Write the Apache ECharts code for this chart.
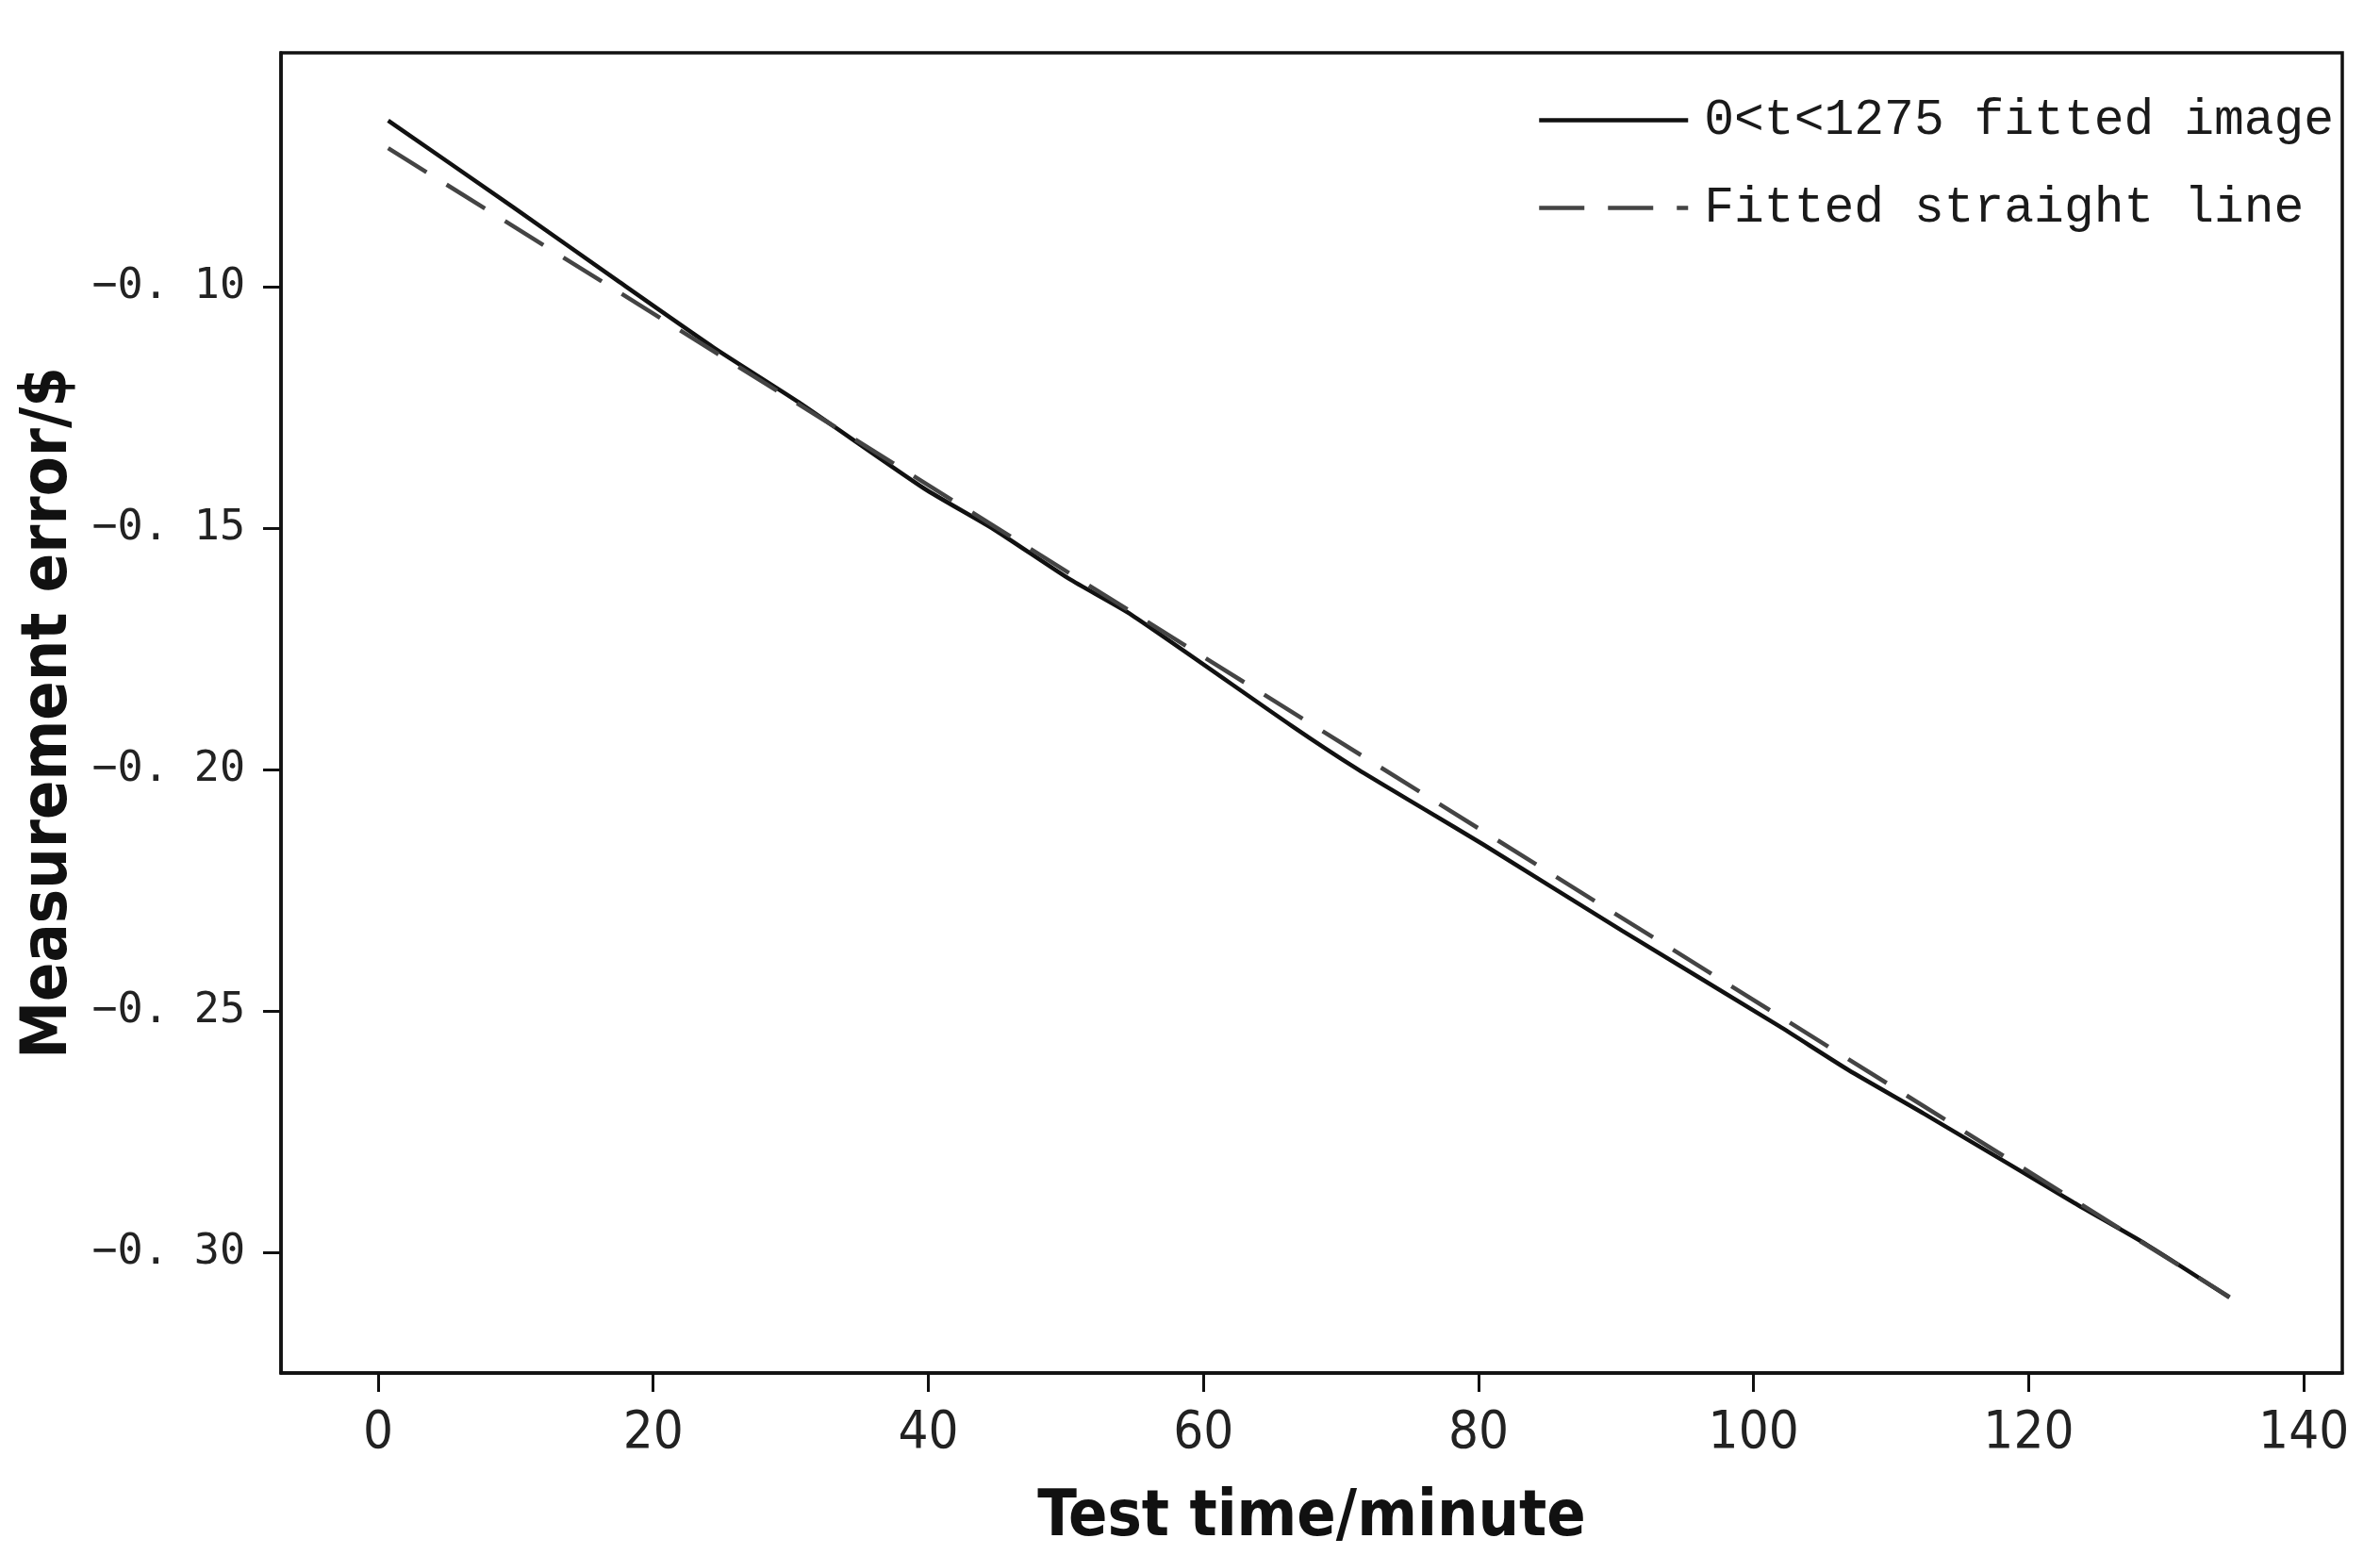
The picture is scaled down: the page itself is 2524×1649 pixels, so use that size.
<!DOCTYPE html>
<html>
<head>
<meta charset="utf-8">
<script src="https://cdn.jsdelivr.net/npm/echarts@6/dist/echarts.min.js"></script>
<style>
html, body { margin: 0; padding: 0; background: #fff; }
#chart { width: 2524px; height: 1649px; }
</style>
</head>
<body>
<div id="chart"></div>
<script>
// Tick labels
const xTicks = [0, 20, 40, 60, 80, 100, 120, 140];
const yTicks = [-0.30, -0.25, -0.20, -0.15, -0.10];

// Series 1: 0<t<1275 fitted image (solid)
const fittedX = [0.73, 9.76, 17.53, 24.39, 30.56, 39.7, 44.73, 50.22, 54.78, 66.43, 71.23, 76.03, 80.37, 90.43, 101.86, 106.9, 112.37, 123.3, 128.6, 134.6];
const fittedY = [-0.0655, -0.0833, -0.0989, -0.1125, -0.1238, -0.1417, -0.1501, -0.1604, -0.1679, -0.1909, -0.1999, -0.2081, -0.2155, -0.2333, -0.2531, -0.2622, -0.2712, -0.2897, -0.2984, -0.3093];

// Series 2: Fitted straight line (dashed)
const straightX = [0.73, 134.6];
const straightY = [-0.0712, -0.3092];

const seriesNames = ['0<t<1275 fitted image', 'Fitted straight line'];

const zip = (xs, ys) => xs.map((x, i) => [x, ys[i]]);

const chart = echarts.init(document.getElementById('chart'));
chart.setOption({
  animation: false,
  backgroundColor: '#ffffff',
  grid: {
    left: 298, top: 56, width: 2186, height: 1407,
    show: true, borderColor: '#111', borderWidth: 3.5, backgroundColor: 'transparent'
  },
  legend: {
    orient: 'vertical',
    left: 1630, top: 101,
    padding: 0,
    itemWidth: 158, itemHeight: 40, itemGap: 40,
    data: seriesNames,
    itemStyle: { opacity: 0 },
    lineStyle: { width: 4.5 },
    textStyle: {
      fontFamily: '"Liberation Mono", "DejaVu Sans Mono", monospace',
      fontSize: 53, color: '#1a1a1a', padding: [0, 0, 0, 12]
    }
  },
  xAxis: {
    type: 'value',
    min: -7.06, max: 142.8,
    name: 'Test time/minute',
    nameLocation: 'middle',
    nameGap: 120,
    nameTextStyle: {
      fontFamily: '"Liberation Sans Narrow", "DejaVu Sans Condensed", "Liberation Sans", sans-serif',
      fontWeight: 'bold', fontSize: 68, color: '#111'
    },
    splitLine: { show: false },
    axisLine: { show: true, onZero: false, lineStyle: { color: '#111', width: 3.5 } },
    axisTick: { show: true, customValues: xTicks, length: 20, lineStyle: { color: '#111', width: 3 } },
    axisLabel: {
      customValues: xTicks, margin: 36,
      fontFamily: '"Liberation Sans Narrow", "DejaVu Sans Condensed", "Liberation Sans", sans-serif',
      fontSize: 56, color: '#222'
    }
  },
  yAxis: {
    type: 'value',
    min: -0.32496, max: -0.05144,
    name: 'Measurement error/$',
    nameLocation: 'middle',
    nameGap: 204,
    nameTextStyle: {
      fontFamily: '"Liberation Sans Narrow", "DejaVu Sans Condensed", "Liberation Sans", sans-serif',
      fontWeight: 'bold', fontSize: 68, color: '#111'
    },
    splitLine: { show: false },
    axisLine: { show: true, onZero: false, lineStyle: { color: '#111', width: 3.5 } },
    axisTick: { show: true, customValues: yTicks, length: 19, lineStyle: { color: '#111', width: 3 } },
    axisLabel: {
      customValues: yTicks, margin: 38,
      fontFamily: '"DejaVu Sans Mono", "Liberation Mono", monospace',
      fontSize: 45, color: '#222',
      formatter: v => v.toFixed(2).replace('.', '. ').replace('-', '\u2212')
    }
  },
  series: [
    {
      name: seriesNames[0],
      type: 'line',
      data: zip(fittedX, fittedY),
      showSymbol: false, symbol: 'none',
      smooth: 0.2,
      lineStyle: { color: '#111', width: 4.5, type: 'solid' },
      itemStyle: { color: '#111' }
    },
    {
      name: seriesNames[1],
      type: 'line',
      data: zip(straightX, straightY),
      showSymbol: false, symbol: 'none',
      lineStyle: { color: '#444', width: 4.5, type: [48, 25] },
      itemStyle: { color: '#444' }
    }
  ]
});
</script>
</body>
</html>
